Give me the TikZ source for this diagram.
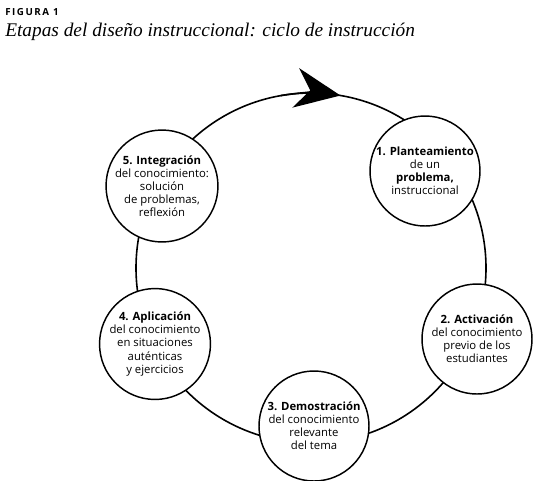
\documentclass[tikz,border=0pt]{standalone}
\usepackage{fontspec}
\setmainfont{Liberation Serif}
\newfontfamily\nodefont{Open Sans}
\newfontfamily\headfont[LetterSpace=16]{Open Sans}
\usetikzlibrary{arrows.meta}
\begin{document}
\begin{tikzpicture}[x=0.75pt,y=0.75pt,
  stage/.style={draw=black, line width=1.1pt, circle, fill=white,
    minimum size=82.5pt, inner sep=0pt, align=center,
    font=\nodefont\fontsize{8.5}{9.8}\selectfont},
  ringline/.style={draw=black, line width=1.2pt},
  headtip/.style={-{Stealth[length=34pt,width=30pt,inset=11pt]}}]
\useasboundingbox (0,0) rectangle (539,-480);
\node[anchor=base west, inner sep=0pt, font=\headfont\bfseries\fontsize{7.3}{8}\selectfont] (fig) at (5,-15) {FIGURA 1};
\node[anchor=base west, inner sep=0pt, font=\itshape\fontsize{14.5}{16}\selectfont] (ttl) at (5,-36) {Etapas del diseño instruccional: ciclo de instrucción};
% cycle ring
\coordinate (c) at (311,-268);
\draw[ringline] (c) circle[radius=131.25pt];
\draw[ringline, headtip] ([shift={(100:131.25pt)}]c) arc[start angle=100, end angle=80.3, radius=131.25pt];
% stages
\node[stage] (n1) at (425,-171) {\textbf{1. Planteamiento}\\de un\\\textbf{problema,}\\instruccional};
\node[stage] (n2) at (477,-339) {\textbf{2. Activación}\\del conocimiento\\previo de los\\estudiantes};
\node[stage] (n3) at (314,-426) {\textbf{3. Demostración}\\del conocimiento\\relevante\\del tema};
\node[stage] (n4) at (155,-344) {\textbf{4. Aplicación}\\del conocimiento\\en situaciones\\auténticas\\y ejercicios};
\node[stage] (n5) at (162,-186) {\textbf{5. Integración}\\del conocimiento:\\solución\\de problemas,\\reflexión};
\end{tikzpicture}
\end{document}
